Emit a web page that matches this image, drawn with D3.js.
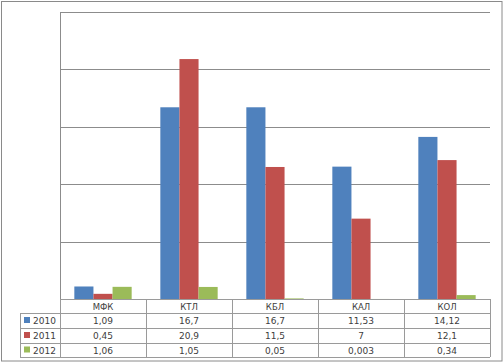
<!DOCTYPE html>
<html><head><meta charset="utf-8">
<script src="https://cdn.jsdelivr.net/npm/d3@7"></script>
<style>html,body{margin:0;padding:0;background:#fff}svg{display:block}</style>
</head><body>
<script>
const categories = ["МФК", "КТЛ", "КБЛ", "КАЛ", "КОЛ"];
const seriesNames = ["2010", "2011", "2012"];
const values2010 = [1.09, 16.7, 16.7, 11.53, 14.12];
const values2011 = [0.45, 20.9, 11.5, 7, 12.1];
const values2012 = [1.06, 1.05, 0.05, 0.003, 0.34];
const colors = ["#4F81BD", "#C0504D", "#9BBB59"];
const yTicks = [0, 5, 10, 15, 20, 25];

(function () {
const series = [values2010, values2011, values2012];
const W = 504, H = 364;
const pl = 60, pr = 490, pt = 12, pb = 299;
const svg = d3.select("body").append("svg").attr("width", W).attr("height", H);

svg.append("rect").attr("x", 1.5).attr("y", 1.5).attr("width", 500.5).attr("height", 359.5)
  .attr("fill", "#fff").attr("stroke", "#8a8a8a").attr("stroke-width", 1);

const x = d3.scaleBand().domain(categories).range([pl, pr]);
const x1 = d3.scaleBand().domain(seriesNames).range([0, x.bandwidth()]).paddingOuter(0.75).paddingInner(0);
const y = d3.scaleLinear().domain([0, 25]).range([pb, pt]);

// gridlines
svg.append("g").selectAll("line").data(yTicks.slice(1)).join("line")
  .attr("x1", pl).attr("x2", pr)
  .attr("y1", d => Math.round(y(d)) + 0.5).attr("y2", d => Math.round(y(d)) + 0.5)
  .attr("stroke", "#8c8c8c").attr("stroke-width", 1);

// bars
const g = svg.append("g");
series.forEach((vals, si) => {
  g.selectAll(null).data(vals).join("rect")
    .attr("x", (d, i) => x(categories[i]) + x1(seriesNames[si]))
    .attr("width", x1.bandwidth())
    .attr("y", d => y(d))
    .attr("height", d => y(0) - y(d))
    .attr("fill", colors[si]);
});

// axis
svg.append("line").attr("x1", pl + 0.5).attr("x2", pl + 0.5).attr("y1", pt).attr("y2", pb)
  .attr("stroke", "#8c8c8c");

// table
const rowY = [299, 313, 328, 343, 357];
const tg = svg.append("g").attr("stroke", "#9a9a9a").attr("stroke-width", 1);
tg.append("line").attr("x1", pl).attr("x2", pr).attr("y1", rowY[0] + 0.5).attr("y2", rowY[0] + 0.5);
for (let r = 1; r < rowY.length; r++) {
  tg.append("line").attr("x1", 20).attr("x2", pr).attr("y1", rowY[r] + 0.5).attr("y2", rowY[r] + 0.5);
}
x.domain().forEach(c => {
  tg.append("line").attr("x1", Math.round(x(c)) + 0.5).attr("x2", Math.round(x(c)) + 0.5)
    .attr("y1", rowY[0]).attr("y2", rowY[4]);
});
tg.append("line").attr("x1", pr + 0.5).attr("x2", pr + 0.5).attr("y1", rowY[0]).attr("y2", rowY[4]);
tg.append("line").attr("x1", 20.5).attr("x2", 20.5).attr("y1", rowY[1]).attr("y2", rowY[4]);

const font = "'DejaVu Sans', Verdana, sans-serif";
svg.append("g").selectAll("text").data(categories).join("text")
  .attr("x", d => x(d) + x.bandwidth() / 2).attr("y", (rowY[0] + rowY[1]) / 2 + 3.5)
  .attr("text-anchor", "middle").attr("font-family", font).attr("font-size", 8.5)
  .attr("fill", "#404040").text(d => d);

const fmt = v => String(v).replace(".", ",");
series.forEach((vals, si) => {
  const cy = (rowY[si + 1] + rowY[si + 2]) / 2 + 3.5;
  svg.append("rect").attr("x", 24).attr("y", cy - 7).attr("width", 6).attr("height", 6).attr("fill", colors[si]);
  svg.append("text").attr("x", 33).attr("y", cy).attr("font-family", font).attr("font-size", 9)
    .attr("fill", "#404040").text(seriesNames[si]);
  svg.append("g").selectAll("text").data(vals).join("text")
    .attr("x", (d, i) => x(categories[i]) + x.bandwidth() / 2).attr("y", cy)
    .attr("text-anchor", "middle").attr("font-family", font).attr("font-size", 9)
    .attr("fill", "#404040").text(d => fmt(d));
});
})();
</script>
</body></html>
